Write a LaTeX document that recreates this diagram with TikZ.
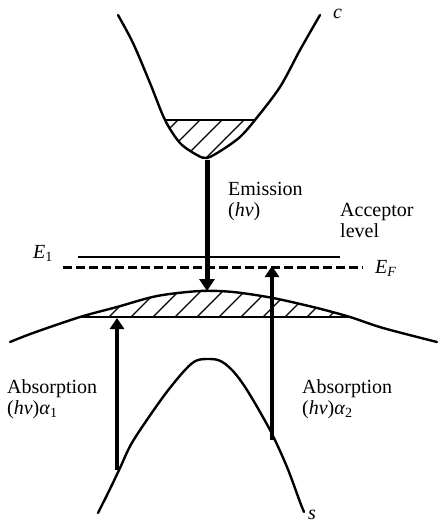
\documentclass[tikz,border=0pt]{standalone}
\usepackage{fontspec}
\setmainfont{Liberation Serif}
\usetikzlibrary{arrows.meta}
\tikzset{
  band/.style={line width=2.4pt,line join=round,line cap=round},
  hatch/.style={line width=1.3pt},
  level/.style={line width=1.4pt},
  emit/.style={line width=5pt,-{Triangle[length=12pt,width=15pt]}},
  absorb/.style={line width=4pt,-{Triangle[length=11pt,width=14pt]}},
  lbl/.style={font=\fontsize{20}{21}\selectfont,inner sep=0pt,align=left},
  cband/.style={insert path={plot[smooth,tension=0.5] coordinates {(118,15) (133,43) (150,83) (165,120) (180,143) (197,155) (207,158) (222,150) (240,137) (255,120) (280,87) (300,50) (320,15)}}},
  vband/.style={insert path={plot[smooth,tension=0.5] coordinates {(10,342) (33,333) (80,317) (117,307) (157,296) (200,291) (233,292) (273,298) (317,308) (350,317) (383,328) (437,342)}}},
  sband/.style={insert path={plot[smooth,tension=0.5] coordinates {(98,513) (110,489) (120,468) (133,441) (163,397) (185,370) (198,360) (218,360) (232,370) (247,390) (270,430) (287,467) (300,502) (304,512)}}},
}

\begin{document}
\begin{tikzpicture}[x=1pt,y=-1pt]
  \useasboundingbox (0,0) rectangle (439,524);
  % conduction band c, filled bottom
  \begin{scope}
    \clip (0,120) rectangle (439,200);
    \clip[cband] -- cycle;
    \foreach \x in {128,150,...,260} \draw[hatch] (\x,170) -- ++(60,-60);
  \end{scope}
  \draw[band,cband];
  \draw[hatch] (165,120) -- (255,120);
  % acceptor level and Fermi level
  \draw[level] (78,257) -- (340,257);
  \draw[line width=3pt,dash pattern=on 9pt off 4pt] (63,267) -- (363,267);
  % heavy band, holes
  \begin{scope}
    \clip (0,0) rectangle (439,317);
    \clip[vband] -- (439,524) -- (0,524) -- cycle;
    \foreach \x in {60,82,...,380} \draw[hatch] (\x,322) -- ++(45,-45);
  \end{scope}
  \draw[band,vband];
  \draw[band] (80,317) -- (350,317);
  % band s
  \draw[band,sband];
  % transitions
  \coordinate (cmin) at (207,160);
  \coordinate (vmax) at (207,291);
  \coordinate (sleft) at (117,470);
  \coordinate (hleft) at (117,318);
  \coordinate (sright) at (272,440);
  \coordinate (fright) at (272,266);
  \draw[emit] (cmin) -- (vmax);
  \draw[absorb] (sleft) -- (hleft);
  \draw[absorb] (sright) -- (fright);
  % labels
  \node[lbl,anchor=base west] (clbl) at (333,19) {\textit{c}};
  \node[lbl,anchor=base west] (slbl) at (308,519) {\textit{s}};
  \node[lbl,anchor=base west] (eone) at (33,258) {\textit{E}\textsubscript{1}};
  \node[lbl,anchor=base west] (efermi) at (375,273) {\textit{E}\textsubscript{\textit{F}}};
  \node[lbl,anchor=north west] (emis) at (228,182) {Emission\\(\textit{hν})};
  \node[lbl,anchor=north west] (accept) at (340,203) {Acceptor\\level};
  \node[lbl,anchor=north west] (absone) at (7,379) {Absorption\\(\textit{hν})\textit{α}\textsubscript{1}};
  \node[lbl,anchor=north west] (abstwo) at (302,379) {Absorption\\(\textit{hν})\textit{α}\textsubscript{2}};
\end{tikzpicture}
\end{document}
